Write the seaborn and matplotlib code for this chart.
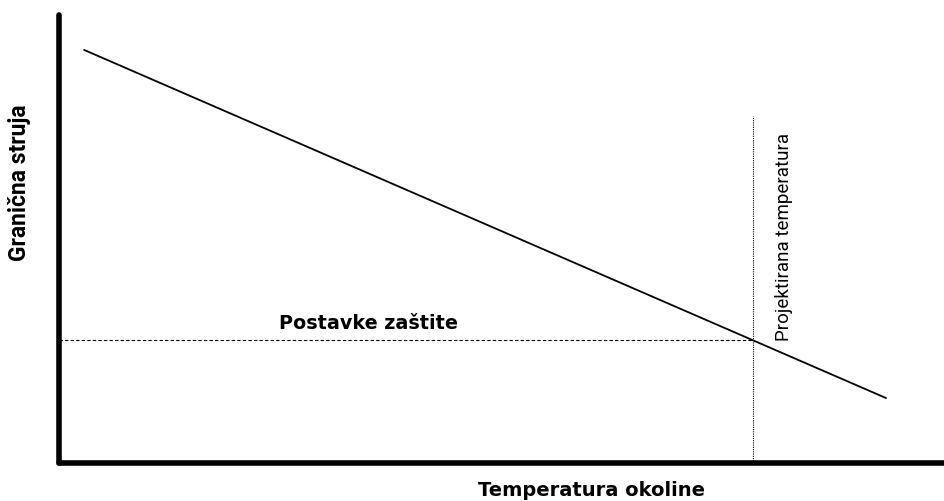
import numpy as np
import pandas as pd
import seaborn as sns
import matplotlib.pyplot as plt

sns.set_theme(style='white')

# values (axis runs 0..100 in both directions, no ticks)
LINE_X = [2.9, 93.45]
LINE_Y = [92.2, 14.5]
SETTING_Y = 27.45          # horizontal dashed line "Postavke zaštite"
DESIGN_X = 78.43           # vertical dotted line "Projektirana temperatura"
DESIGN_TOP = 77.5

X_LABEL = 'Temperatura okoline'
Y_LABEL = 'Granična struja'
SETTING_LABEL = 'Postavke zaštite'
DESIGN_LABEL = 'Projektirana temperatura'

NARROW = ['Roboto', 'DejaVu Sans']
plt.rcParams['font.family'] = ['DejaVu Sans']
plt.rcParams['text.color'] = 'black'

fig = plt.figure(figsize=(9.44, 5.01), dpi=100)
ax = fig.add_axes([58.5 / 944, 1 - 463 / 501, 1 - 58.5 / 944, 448 / 501])

df = pd.DataFrame({'x': LINE_X, 'y': LINE_Y})
sns.lineplot(data=df, x='x', y='y', color='black', linewidth=1.3, ax=ax)

ax.plot([0, DESIGN_X], [SETTING_Y, SETTING_Y], color='black', linewidth=0.8,
        linestyle=(0, (3, 2)))
ax.plot([DESIGN_X, DESIGN_X], [0, DESIGN_TOP], color='black', linewidth=0.8,
        linestyle=(0, (1, 1)))

ax.text(35.0, 29.9, SETTING_LABEL, ha='center', va='baseline',
        fontsize=13.8, fontweight='bold', color='black')
ax.text(81.9, 50.4, DESIGN_LABEL, ha='center', va='center', rotation=90,
        fontsize=13.5, family=NARROW, color='black')

ax.set_xlim(0, 100)
ax.set_ylim(0, 100)
ax.set_xticks([])
ax.set_yticks([])
ax.set_xlabel('')
ax.set_ylabel('')
for side in ['top', 'right']:
    ax.spines[side].set_visible(False)
for side in ['left', 'bottom']:
    ax.spines[side].set_linewidth(4)
    ax.spines[side].set_color('black')
    ax.spines[side].set_capstyle('round')

fig.text(591 / 944, 1 - 490 / 501, X_LABEL, ha='center', va='center',
         fontsize=14, fontweight='bold', color='black')
fig.text(20 / 944, 1 - 183 / 501, Y_LABEL, ha='center', va='center',
         rotation=90, fontsize=16.5, fontweight='bold', family=NARROW,
         color='black')

fig.savefig('out.png', dpi=100)
